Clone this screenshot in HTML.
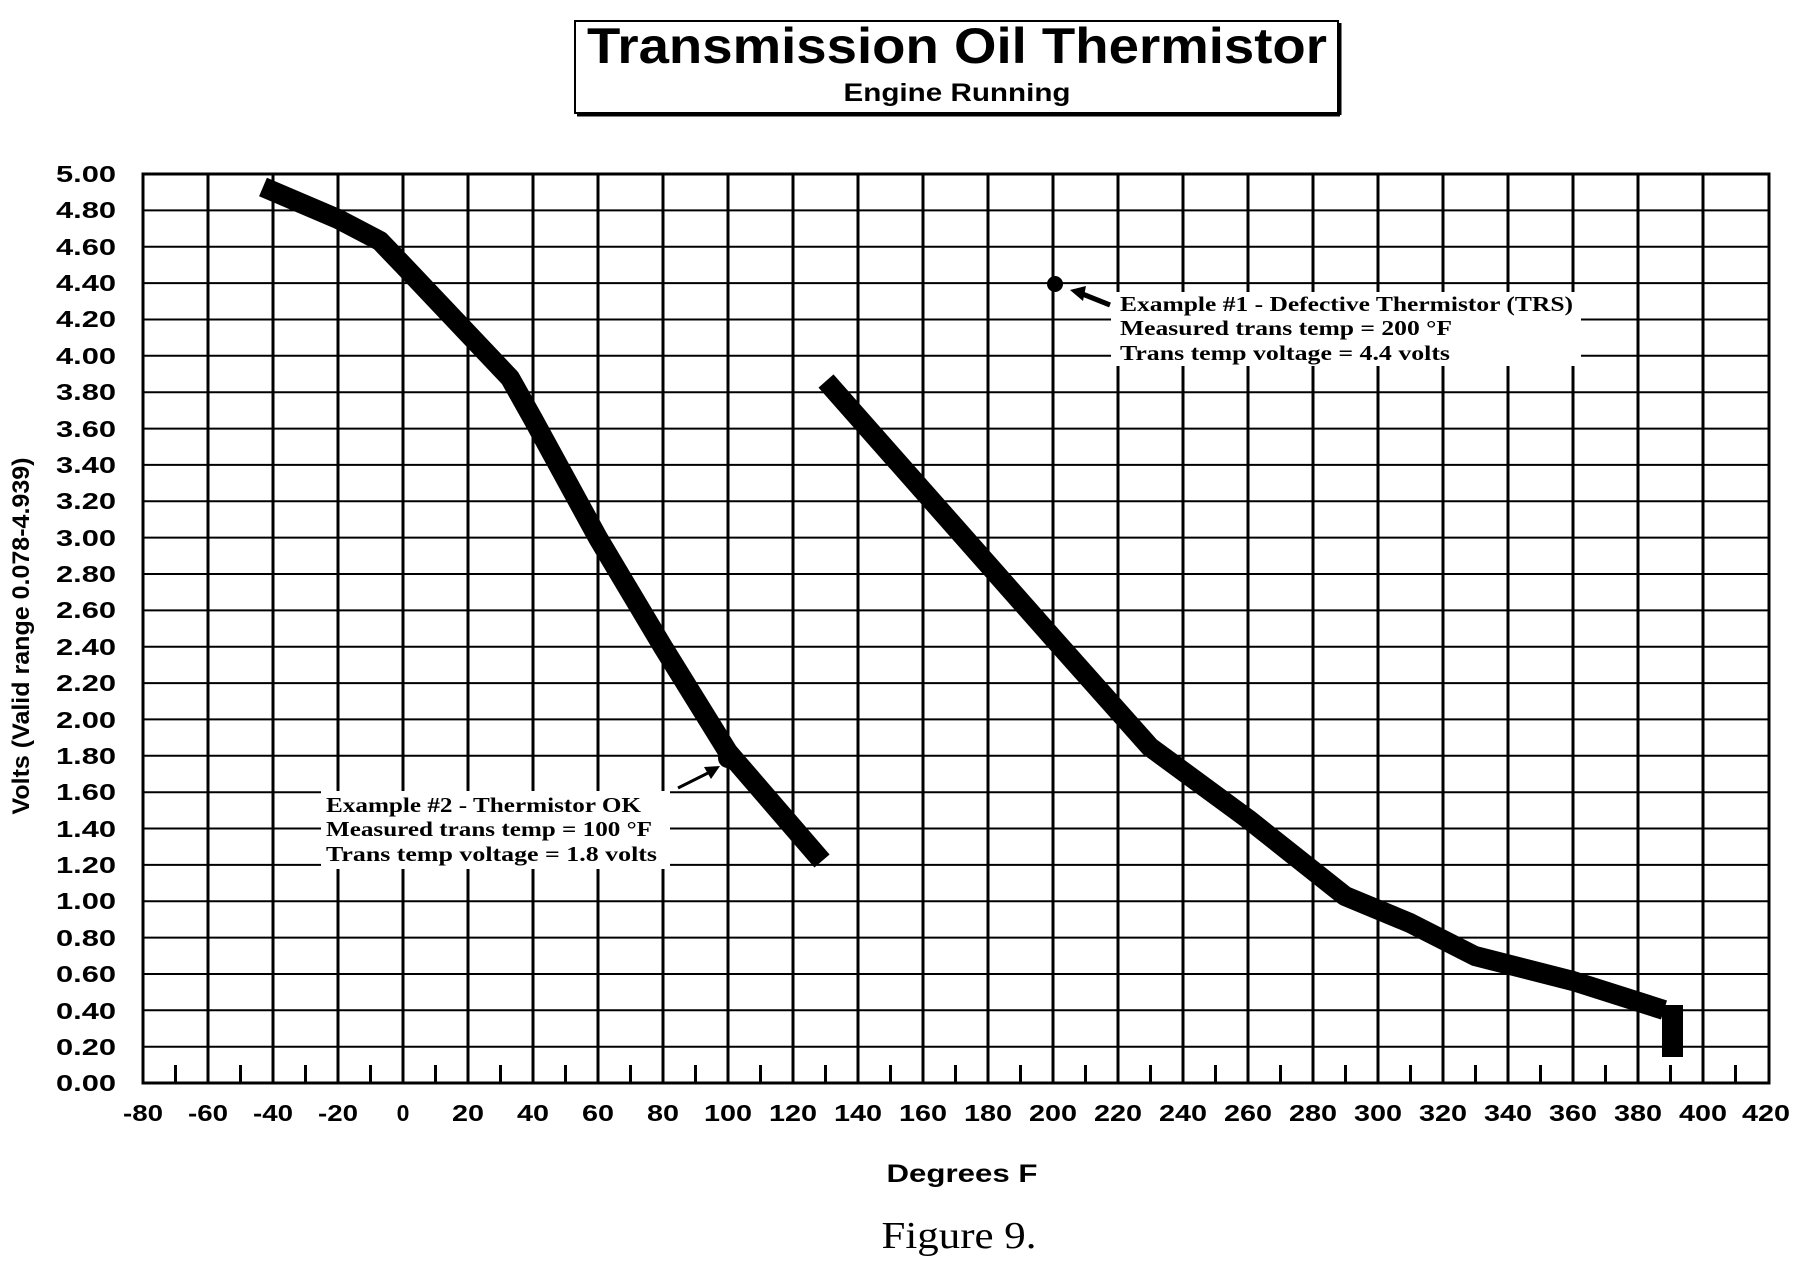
<!DOCTYPE html>
<html><head><style>body{margin:0;background:#fff}svg{display:block}</style></head><body>
<svg width="1796" height="1280" xmlns="http://www.w3.org/2000/svg">
<rect width="1796" height="1280" fill="#fff"/>
<rect x="575" y="21" width="763" height="92" fill="#fff" stroke="#000" stroke-width="2"/>
<line x1="577" y1="115" x2="1340" y2="115" stroke="#000" stroke-width="3"/>
<line x1="1340" y1="23" x2="1340" y2="115" stroke="#000" stroke-width="3"/>
<text x="957" y="63" font-family="Liberation Sans" font-weight="bold" font-size="50" text-anchor="middle" textLength="740" lengthAdjust="spacingAndGlyphs">Transmission Oil Thermistor</text>
<text x="957" y="101" font-family="Liberation Sans" font-weight="bold" font-size="25" text-anchor="middle" textLength="227" lengthAdjust="spacingAndGlyphs">Engine Running</text>
<g stroke="#000">
<g stroke-width="2">
<line x1="143" y1="210.4" x2="1769" y2="210.4"/><line x1="143" y1="246.8" x2="1769" y2="246.8"/><line x1="143" y1="283.1" x2="1769" y2="283.1"/><line x1="143" y1="319.5" x2="1769" y2="319.5"/><line x1="143" y1="355.8" x2="1769" y2="355.8"/><line x1="143" y1="392.2" x2="1769" y2="392.2"/><line x1="143" y1="428.6" x2="1769" y2="428.6"/><line x1="143" y1="464.9" x2="1769" y2="464.9"/><line x1="143" y1="501.3" x2="1769" y2="501.3"/><line x1="143" y1="537.6" x2="1769" y2="537.6"/><line x1="143" y1="574" x2="1769" y2="574"/><line x1="143" y1="610.4" x2="1769" y2="610.4"/><line x1="143" y1="646.7" x2="1769" y2="646.7"/><line x1="143" y1="683.1" x2="1769" y2="683.1"/><line x1="143" y1="719.4" x2="1769" y2="719.4"/><line x1="143" y1="755.8" x2="1769" y2="755.8"/><line x1="143" y1="792.2" x2="1769" y2="792.2"/><line x1="143" y1="828.5" x2="1769" y2="828.5"/><line x1="143" y1="864.9" x2="1769" y2="864.9"/><line x1="143" y1="901.2" x2="1769" y2="901.2"/><line x1="143" y1="937.6" x2="1769" y2="937.6"/><line x1="143" y1="974" x2="1769" y2="974"/><line x1="143" y1="1010.3" x2="1769" y2="1010.3"/><line x1="143" y1="1046.7" x2="1769" y2="1046.7"/>
</g>
<g stroke-width="3">
<line x1="208" y1="174" x2="208" y2="1083"/><line x1="273" y1="174" x2="273" y2="1083"/><line x1="338" y1="174" x2="338" y2="1083"/><line x1="403" y1="174" x2="403" y2="1083"/><line x1="468" y1="174" x2="468" y2="1083"/><line x1="533" y1="174" x2="533" y2="1083"/><line x1="598" y1="174" x2="598" y2="1083"/><line x1="663" y1="174" x2="663" y2="1083"/><line x1="728" y1="174" x2="728" y2="1083"/><line x1="793" y1="174" x2="793" y2="1083"/><line x1="858" y1="174" x2="858" y2="1083"/><line x1="923" y1="174" x2="923" y2="1083"/><line x1="988" y1="174" x2="988" y2="1083"/><line x1="1053" y1="174" x2="1053" y2="1083"/><line x1="1118" y1="174" x2="1118" y2="1083"/><line x1="1183" y1="174" x2="1183" y2="1083"/><line x1="1248" y1="174" x2="1248" y2="1083"/><line x1="1313" y1="174" x2="1313" y2="1083"/><line x1="1378" y1="174" x2="1378" y2="1083"/><line x1="1443" y1="174" x2="1443" y2="1083"/><line x1="1508" y1="174" x2="1508" y2="1083"/><line x1="1573" y1="174" x2="1573" y2="1083"/><line x1="1638" y1="174" x2="1638" y2="1083"/><line x1="1703" y1="174" x2="1703" y2="1083"/>
</g>
<rect x="143" y="174" width="1626" height="909" fill="none" stroke-width="3"/>
</g>
<g stroke="#000" stroke-width="3">
<line x1="175.5" y1="1065" x2="175.5" y2="1083"/><line x1="240.5" y1="1065" x2="240.5" y2="1083"/><line x1="305.5" y1="1065" x2="305.5" y2="1083"/><line x1="370.5" y1="1065" x2="370.5" y2="1083"/><line x1="435.5" y1="1065" x2="435.5" y2="1083"/><line x1="500.5" y1="1065" x2="500.5" y2="1083"/><line x1="565.5" y1="1065" x2="565.5" y2="1083"/><line x1="630.5" y1="1065" x2="630.5" y2="1083"/><line x1="695.5" y1="1065" x2="695.5" y2="1083"/><line x1="760.5" y1="1065" x2="760.5" y2="1083"/><line x1="825.5" y1="1065" x2="825.5" y2="1083"/><line x1="890.5" y1="1065" x2="890.5" y2="1083"/><line x1="955.5" y1="1065" x2="955.5" y2="1083"/><line x1="1020.5" y1="1065" x2="1020.5" y2="1083"/><line x1="1085.5" y1="1065" x2="1085.5" y2="1083"/><line x1="1150.5" y1="1065" x2="1150.5" y2="1083"/><line x1="1215.5" y1="1065" x2="1215.5" y2="1083"/><line x1="1280.5" y1="1065" x2="1280.5" y2="1083"/><line x1="1345.5" y1="1065" x2="1345.5" y2="1083"/><line x1="1410.5" y1="1065" x2="1410.5" y2="1083"/><line x1="1475.5" y1="1065" x2="1475.5" y2="1083"/><line x1="1540.5" y1="1065" x2="1540.5" y2="1083"/><line x1="1605.5" y1="1065" x2="1605.5" y2="1083"/><line x1="1670.5" y1="1065" x2="1670.5" y2="1083"/><line x1="1735.5" y1="1065" x2="1735.5" y2="1083"/>
</g>
<rect x="1111" y="292" width="470" height="74" fill="#fff"/>
<rect x="321" y="791" width="349" height="78" fill="#fff"/>
<g font-family="Liberation Sans" font-weight="bold" font-size="23" text-anchor="end">
<text x="116" y="182" textLength="60" lengthAdjust="spacingAndGlyphs">5.00</text><text x="116" y="218" textLength="60" lengthAdjust="spacingAndGlyphs">4.80</text><text x="116" y="255" textLength="60" lengthAdjust="spacingAndGlyphs">4.60</text><text x="116" y="291" textLength="60" lengthAdjust="spacingAndGlyphs">4.40</text><text x="116" y="327" textLength="60" lengthAdjust="spacingAndGlyphs">4.20</text><text x="116" y="364" textLength="60" lengthAdjust="spacingAndGlyphs">4.00</text><text x="116" y="400" textLength="60" lengthAdjust="spacingAndGlyphs">3.80</text><text x="116" y="437" textLength="60" lengthAdjust="spacingAndGlyphs">3.60</text><text x="116" y="473" textLength="60" lengthAdjust="spacingAndGlyphs">3.40</text><text x="116" y="509" textLength="60" lengthAdjust="spacingAndGlyphs">3.20</text><text x="116" y="546" textLength="60" lengthAdjust="spacingAndGlyphs">3.00</text><text x="116" y="582" textLength="60" lengthAdjust="spacingAndGlyphs">2.80</text><text x="116" y="618" textLength="60" lengthAdjust="spacingAndGlyphs">2.60</text><text x="116" y="655" textLength="60" lengthAdjust="spacingAndGlyphs">2.40</text><text x="116" y="691" textLength="60" lengthAdjust="spacingAndGlyphs">2.20</text><text x="116" y="728" textLength="60" lengthAdjust="spacingAndGlyphs">2.00</text><text x="116" y="764" textLength="60" lengthAdjust="spacingAndGlyphs">1.80</text><text x="116" y="800" textLength="60" lengthAdjust="spacingAndGlyphs">1.60</text><text x="116" y="837" textLength="60" lengthAdjust="spacingAndGlyphs">1.40</text><text x="116" y="873" textLength="60" lengthAdjust="spacingAndGlyphs">1.20</text><text x="116" y="909" textLength="60" lengthAdjust="spacingAndGlyphs">1.00</text><text x="116" y="946" textLength="60" lengthAdjust="spacingAndGlyphs">0.80</text><text x="116" y="982" textLength="60" lengthAdjust="spacingAndGlyphs">0.60</text><text x="116" y="1019" textLength="60" lengthAdjust="spacingAndGlyphs">0.40</text><text x="116" y="1055" textLength="60" lengthAdjust="spacingAndGlyphs">0.20</text><text x="116" y="1091" textLength="60" lengthAdjust="spacingAndGlyphs">0.00</text>
</g>
<g font-family="Liberation Sans" font-weight="bold" font-size="23" text-anchor="middle">
<text x="143" y="1121" textLength="40" lengthAdjust="spacingAndGlyphs">-80</text><text x="208" y="1121" textLength="40" lengthAdjust="spacingAndGlyphs">-60</text><text x="273" y="1121" textLength="40" lengthAdjust="spacingAndGlyphs">-40</text><text x="338" y="1121" textLength="40" lengthAdjust="spacingAndGlyphs">-20</text><text x="403" y="1121">0</text><text x="468" y="1121" textLength="32" lengthAdjust="spacingAndGlyphs">20</text><text x="533" y="1121" textLength="32" lengthAdjust="spacingAndGlyphs">40</text><text x="598" y="1121" textLength="32" lengthAdjust="spacingAndGlyphs">60</text><text x="663" y="1121" textLength="32" lengthAdjust="spacingAndGlyphs">80</text><text x="728" y="1121" textLength="48" lengthAdjust="spacingAndGlyphs">100</text><text x="793" y="1121" textLength="48" lengthAdjust="spacingAndGlyphs">120</text><text x="858" y="1121" textLength="48" lengthAdjust="spacingAndGlyphs">140</text><text x="923" y="1121" textLength="48" lengthAdjust="spacingAndGlyphs">160</text><text x="988" y="1121" textLength="48" lengthAdjust="spacingAndGlyphs">180</text><text x="1053" y="1121" textLength="48" lengthAdjust="spacingAndGlyphs">200</text><text x="1118" y="1121" textLength="48" lengthAdjust="spacingAndGlyphs">220</text><text x="1183" y="1121" textLength="48" lengthAdjust="spacingAndGlyphs">240</text><text x="1248" y="1121" textLength="48" lengthAdjust="spacingAndGlyphs">260</text><text x="1313" y="1121" textLength="48" lengthAdjust="spacingAndGlyphs">280</text><text x="1378" y="1121" textLength="48" lengthAdjust="spacingAndGlyphs">300</text><text x="1443" y="1121" textLength="48" lengthAdjust="spacingAndGlyphs">320</text><text x="1508" y="1121" textLength="48" lengthAdjust="spacingAndGlyphs">340</text><text x="1573" y="1121" textLength="48" lengthAdjust="spacingAndGlyphs">360</text><text x="1638" y="1121" textLength="48" lengthAdjust="spacingAndGlyphs">380</text><text x="1703" y="1121" textLength="48" lengthAdjust="spacingAndGlyphs">400</text><text x="1766" y="1121" textLength="48" lengthAdjust="spacingAndGlyphs">420</text>
</g>
<text x="962" y="1182" font-family="Liberation Sans" font-weight="bold" font-size="25" text-anchor="middle" textLength="151" lengthAdjust="spacingAndGlyphs">Degrees F</text>
<text x="959" y="1248" font-family="Liberation Serif" font-size="38" text-anchor="middle" textLength="155" lengthAdjust="spacingAndGlyphs">Figure 9.</text>
<text transform="translate(29,636) rotate(-90)" font-family="Liberation Sans" font-weight="bold" font-size="24" text-anchor="middle" textLength="357" lengthAdjust="spacingAndGlyphs">Volts (Valid range 0.078-4.939)</text>
<g fill="none" stroke="#000" stroke-width="20" stroke-linejoin="round">
<polyline points="263,187 338,219 380,241 403,265 510,378 533,419 598,538 663,647 728,752 822,861"/>
<polyline points="826,381 1053,638 1150,747 1248,819 1345,896 1410,923 1475,956 1573,981 1664,1010"/>
</g>
<rect x="1662" y="1005" width="21" height="52" fill="#000"/>
<g font-family="Liberation Serif" font-weight="bold" font-size="21">
<text x="1120" y="311" textLength="453" lengthAdjust="spacingAndGlyphs">Example #1 - Defective Thermistor (TRS)</text>
<text x="1120" y="335" textLength="332" lengthAdjust="spacingAndGlyphs">Measured trans temp = 200 °F</text>
<text x="1120" y="360" textLength="330" lengthAdjust="spacingAndGlyphs">Trans temp voltage = 4.4 volts</text>
<text x="326" y="812" textLength="315" lengthAdjust="spacingAndGlyphs">Example #2 - Thermistor OK</text>
<text x="326" y="836" textLength="326" lengthAdjust="spacingAndGlyphs">Measured trans temp = 100 °F</text>
<text x="326" y="861" textLength="331" lengthAdjust="spacingAndGlyphs">Trans temp voltage = 1.8 volts</text>
</g>
<circle cx="1055" cy="284" r="8" fill="#000"/>
<line x1="1110" y1="305" x2="1080" y2="293" stroke="#000" stroke-width="5"/>
<polygon points="1070,290 1086,286 1083,301" fill="#000"/>
<circle cx="728" cy="758" r="10" fill="#000"/>
<line x1="678" y1="788" x2="710" y2="772" stroke="#000" stroke-width="3"/>
<polygon points="720,766 704,767 711,779" fill="#000"/>
</svg>
</body></html>
